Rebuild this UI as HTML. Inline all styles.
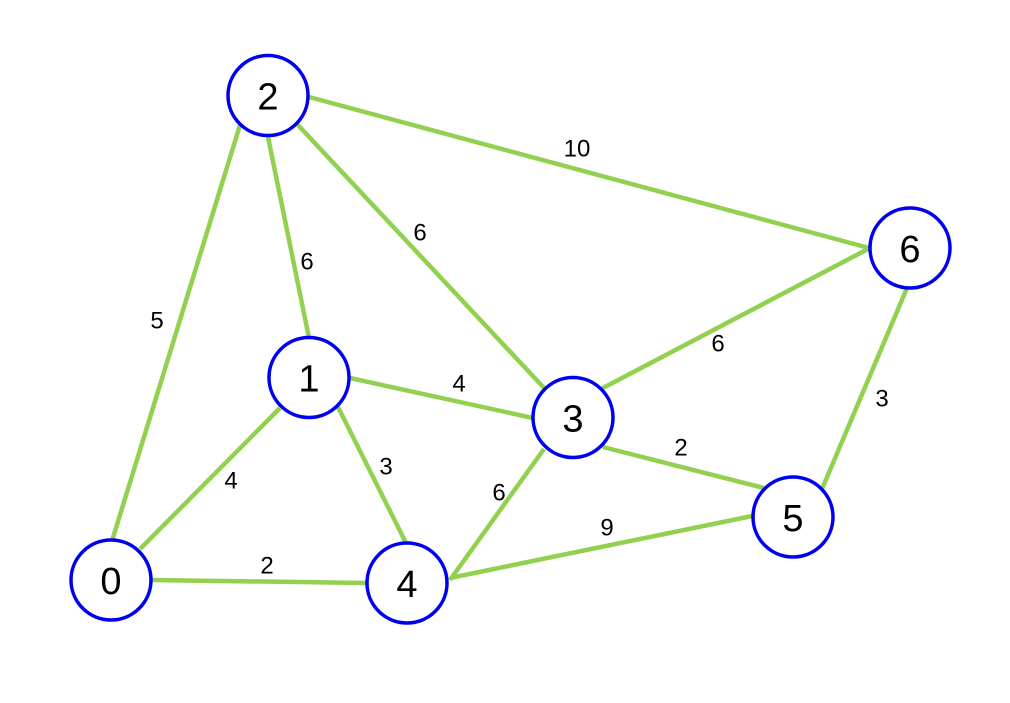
<!DOCTYPE html>
<html><head><meta charset="utf-8"><style>
html,body{margin:0;padding:0;background:#fff;}
svg{display:block;}
.e{stroke:#92D050;stroke-width:4.5;fill:none;stroke-linecap:butt;}
.n{fill:#fff;stroke:#0000F0;stroke-width:3.5;}
.nl{font-family:"Liberation Sans",sans-serif;font-size:38px;fill:#000;text-anchor:middle;}
.el{font-family:"Liberation Sans",sans-serif;font-size:24px;fill:#000;text-anchor:middle;}
</style></head><body>
<svg width="1010" height="703" viewBox="0 0 1010 703" xmlns="http://www.w3.org/2000/svg">
<rect width="1010" height="703" fill="#fff"/>
<line class="e" x1="240" y1="125" x2="112" y2="541"/>
<line class="e" x1="268" y1="137" x2="309" y2="338"/>
<line class="e" x1="280" y1="408" x2="140" y2="549"/>
<line class="e" x1="297" y1="124" x2="545" y2="389"/>
<line class="e" x1="309" y1="97" x2="869" y2="248"/>
<line class="e" x1="601" y1="389" x2="868" y2="249"/>
<line class="e" x1="907" y1="288" x2="822" y2="489"/>
<line class="e" x1="350" y1="378" x2="533" y2="418"/>
<line class="e" x1="338" y1="407" x2="406" y2="543"/>
<line class="e" x1="603" y1="447" x2="764" y2="488"/>
<line class="e" x1="450" y1="580" x2="544" y2="449"/>
<line class="e" x1="450" y1="578" x2="757" y2="515"/>
<line class="e" x1="152" y1="580" x2="366" y2="583"/>
<circle class="n" cx="268" cy="95.5" r="40"/>
<circle class="n" cx="910" cy="248" r="40"/>
<circle class="n" cx="309" cy="377.5" r="40"/>
<circle class="n" cx="573" cy="417.5" r="40"/>
<circle class="n" cx="793" cy="517" r="40"/>
<circle class="n" cx="111" cy="580" r="40"/>
<circle class="n" cx="407" cy="583" r="40"/>
<text class="nl" x="268" y="109.5">2</text>
<text class="nl" x="910" y="262">6</text>
<text class="nl" x="309" y="391.5">1</text>
<text class="nl" x="573" y="431.5">3</text>
<text class="nl" x="793" y="531">5</text>
<text class="nl" x="111" y="594">0</text>
<text class="nl" x="407" y="597">4</text>
<text class="el" x="577" y="156.5">10</text>
<text class="el" x="420" y="240.5">6</text>
<text class="el" x="307" y="269.5">6</text>
<text class="el" x="157" y="328.5">5</text>
<text class="el" x="718" y="351.5">6</text>
<text class="el" x="882" y="406.5">3</text>
<text class="el" x="459" y="391.5">4</text>
<text class="el" x="681" y="455.5">2</text>
<text class="el" x="386" y="474.5">3</text>
<text class="el" x="231" y="488.5">4</text>
<text class="el" x="499" y="500.5">6</text>
<text class="el" x="607" y="535.5">9</text>
<text class="el" x="267" y="573.5">2</text>
</svg>
</body></html>
